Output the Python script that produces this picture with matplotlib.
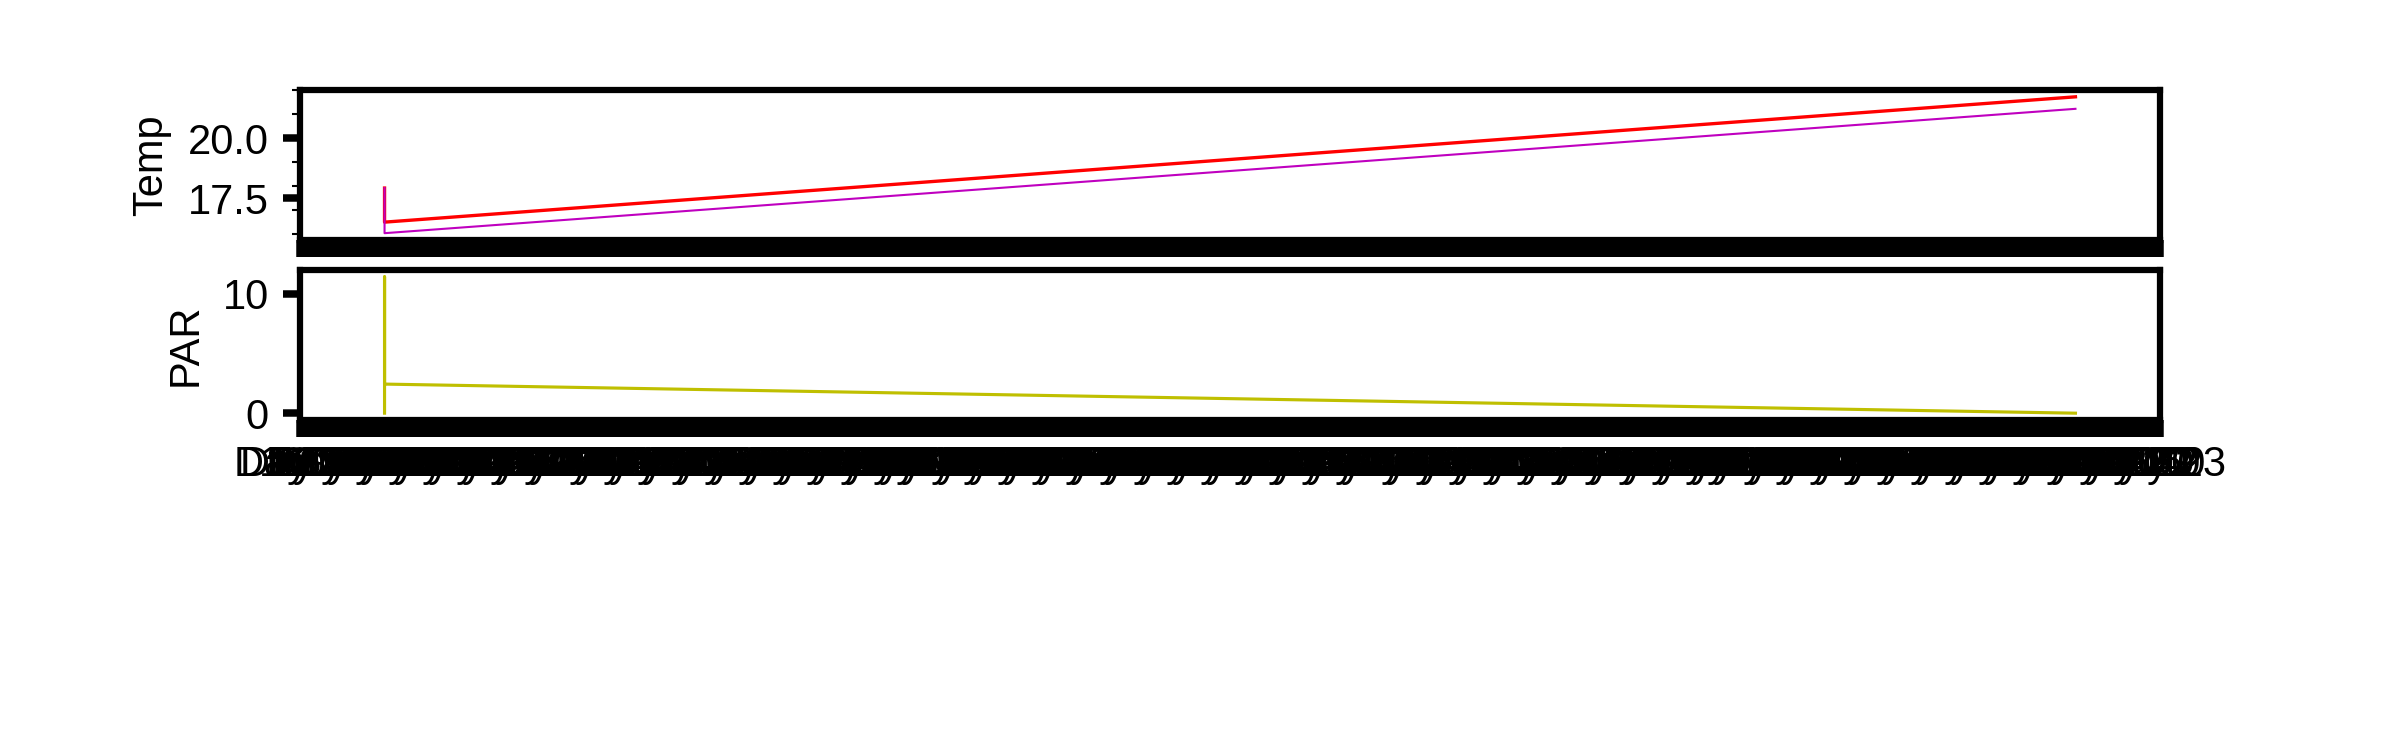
import matplotlib.pyplot as plt
from matplotlib.ticker import MultipleLocator, FixedLocator, FixedFormatter

plt.rcParams["font.family"] = ["Liberation Sans", "DejaVu Sans"]
plt.rcParams["font.size"] = 10

# logger readings (x in hours since start)
temp_a_x = [2.5, 2.5, 52.5]
temp_a_y = [17.93, 16.51, 21.73]
temp_b_x = [2.5, 2.5, 52.5]
temp_b_y = [17.93, 16.05, 21.23]
par_x = [2.5, 2.5, 2.5, 52.5]
par_y = [0.0, 11.44, 2.44, 0.0]

# one tick every 10 minutes, "Day h" around the hour
tick_pos = [k / 6 for k in range(331)]
tick_labels = []
for k in range(331):
    h = (k // 6 + 16) % 24
    if k % 6 in (0, 1):
        tick_labels.append("Day %d" % h)
    else:
        tick_labels.append("%d:%02d" % (h, (k % 6) * 10))


def style_axis(ax):
    for sp in ax.spines.values():
        sp.set_linewidth(1.5)
    ax.xaxis.set_major_locator(FixedLocator(tick_pos))
    ax.xaxis.set_major_formatter(FixedFormatter(tick_labels))
    ax.tick_params(axis="x", which="major", direction="out", length=4, width=1.8, pad=2)
    ax.tick_params(axis="y", which="major", direction="out", length=4, width=1.8)
    ax.tick_params(axis="y", which="minor", direction="out", length=2, width=0.5)


fig = plt.figure(figsize=(8, 2.5), dpi=300)
ax1 = fig.add_axes([0.125, 0.68, 0.775, 0.2])
ax2 = fig.add_axes([0.125, 0.44, 0.775, 0.2])

ax1.plot(temp_a_x, temp_a_y, color="r", linewidth=0.8)
ax1.plot(temp_b_x, temp_b_y, color="m", linewidth=0.5)
ax1.set_ylabel("Temp")
style_axis(ax1)
ax1.yaxis.set_major_locator(MultipleLocator(2.5))
ax1.yaxis.set_minor_locator(MultipleLocator(1))
ax1.tick_params(axis="x", labelbottom=False)

ax2.plot(par_x, par_y, color="y", linewidth=0.75)
ax2.set_ylabel("PAR")
style_axis(ax2)
ax2.yaxis.set_major_locator(MultipleLocator(10))

plt.savefig("out.png", dpi=300)
plt.close()
